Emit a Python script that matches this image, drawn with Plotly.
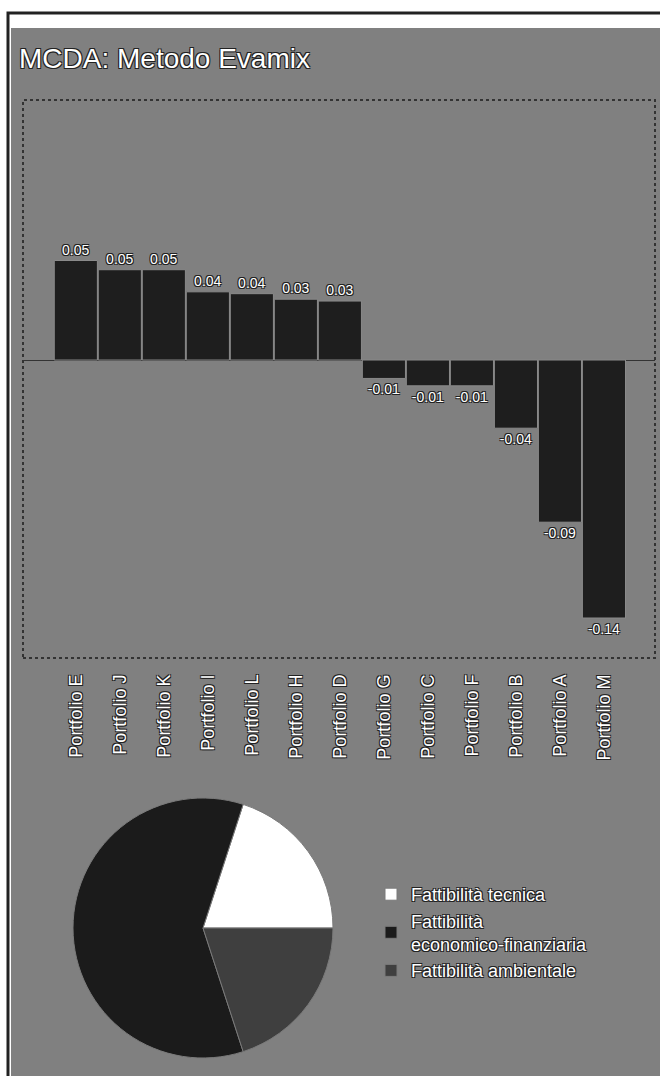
import plotly.graph_objects as go

# Evamix MCDA scores per portfolio
portfolios = ["Portfolio E", "Portfolio J", "Portfolio K", "Portfolio I", "Portfolio L",
              "Portfolio H", "Portfolio D", "Portfolio G", "Portfolio C", "Portfolio F",
              "Portfolio B", "Portfolio A", "Portfolio M"]
scores = [0.054, 0.049, 0.049, 0.037, 0.036, 0.033, 0.032,
          -0.010, -0.014, -0.014, -0.037, -0.088, -0.140]

# Criteria weights
criteria = ["Fattibilità tecnica", "Fattibilità<br>economico-finanziaria", "Fattibilità ambientale"]
weights = [0.20, 0.60, 0.20]
criteria_colors = ["#ffffff", "#1b1b1b", "#3f3f3f"]

W, H = 660, 1076
FONT = "Liberation Sans, Arial, sans-serif"
OUTLINE = "1px 1px 0 #222, -1px -1px 0 #222, 1px -1px 0 #222, -1px 1px 0 #222"


def px_x(x):
    return x / W


def px_y(y):
    return 1 - y / H


fig = go.Figure()

fig.add_trace(go.Bar(
    x=portfolios, y=scores,
    marker=dict(color="#1e1e1e", line=dict(color="#8a8a8a", width=1)),
    texttemplate="%{y:.2f}", textposition="outside", constraintext="none",
    cliponaxis=False,
    textfont=dict(family=FONT, size=14, color="#ffffff", shadow=OUTLINE),
    showlegend=False, hoverinfo="x+y",
))

fig.add_trace(go.Pie(
    labels=criteria, values=weights, sort=False,
    direction="counterclockwise", rotation=18,
    marker=dict(colors=criteria_colors, line=dict(color="#7a7a7a", width=1)),
    textinfo="none",
    domain=dict(x=[px_x(73), px_x(333)], y=[px_y(1058), px_y(798)]),
))

shapes = [
    # page frame and grey panel
    dict(type="rect", xref="paper", yref="paper", x0=px_x(8), x1=px_x(700),
         y0=px_y(1100), y1=px_y(13), line=dict(color="#222", width=3), fillcolor="#ffffff",
         layer="below"),
    dict(type="rect", xref="paper", yref="paper", x0=px_x(11), x1=px_x(700),
         y0=px_y(1100), y1=px_y(28), line=dict(width=0), fillcolor="#808080",
         layer="below"),
    # dotted border around the bar plot area
    dict(type="rect", xref="paper", yref="paper", x0=px_x(23), x1=px_x(655),
         y0=px_y(658), y1=px_y(100), line=dict(color="#333", width=2, dash="dot")),
]

fig.update_layout(
    width=W, height=H,
    margin=dict(l=0, r=0, t=0, b=0),
    paper_bgcolor="#ffffff", plot_bgcolor="rgba(0,0,0,0)",
    font=dict(family=FONT, color="#ffffff"),
    bargap=0.02,
    shapes=shapes,
    xaxis=dict(domain=[px_x(23), px_x(655)], range=[-1.2, 13.16],
               tickangle=-90, showgrid=False, showline=False, zeroline=False,
               ticks="", ticklabelstandoff=12,
               tickfont=dict(family=FONT, size=18, color="#ffffff", shadow=OUTLINE)),
    yaxis=dict(domain=[px_y(658), px_y(100)], range=[-0.1617, 0.1411],
               showgrid=False, showticklabels=False, showline=False,
               zeroline=True, zerolinecolor="#333", zerolinewidth=1),
    legend=dict(x=px_x(371), y=px_y(876), xanchor="left", yanchor="top",
                font=dict(family=FONT, size=18, color="#ffffff", shadow=OUTLINE),
                bgcolor="rgba(0,0,0,0)", tracegroupgap=4),
    annotations=[dict(text="MCDA: Metodo Evamix", xref="paper", yref="paper",
                      x=px_x(17), y=px_y(58), xanchor="left", yanchor="middle",
                      showarrow=False,
                      font=dict(family=FONT, size=28, color="#ffffff", shadow=OUTLINE))],
)

fig.write_html("out.html")
